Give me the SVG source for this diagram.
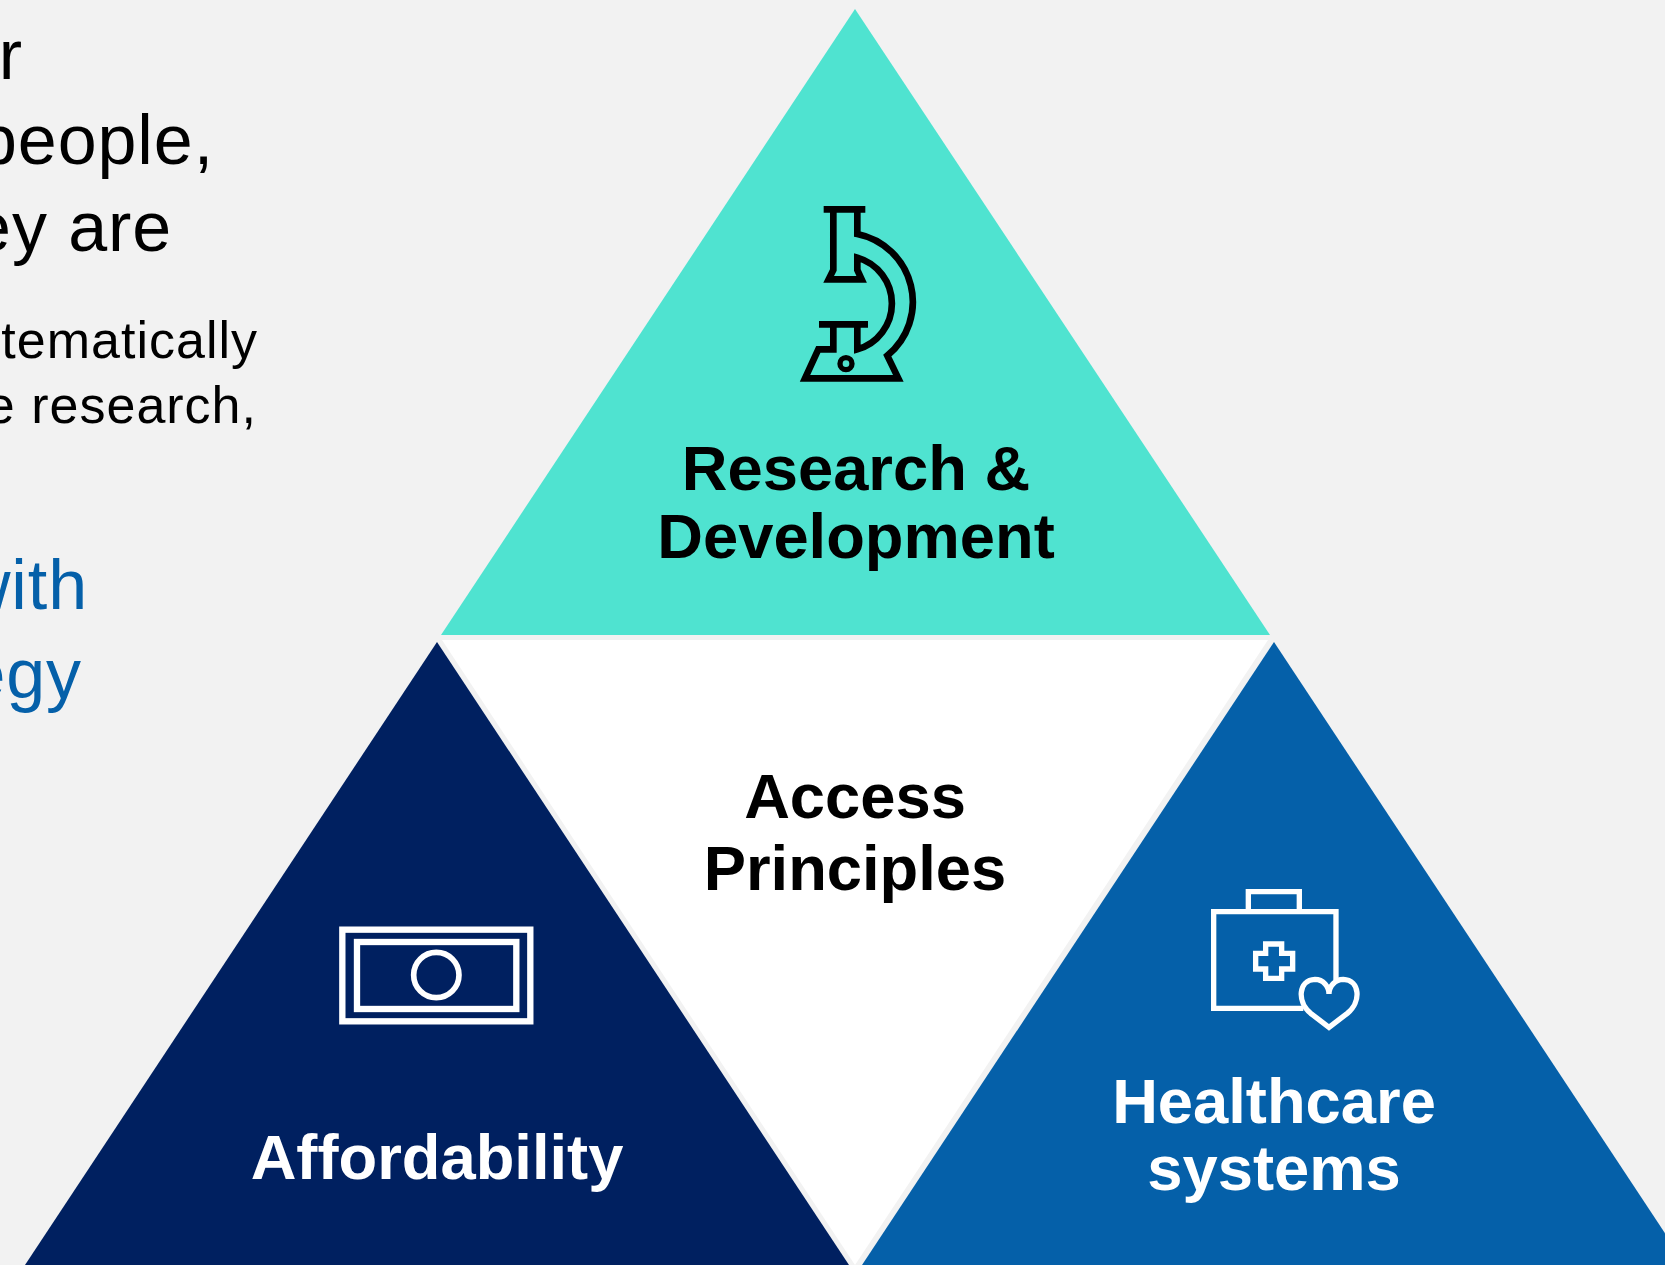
<svg xmlns="http://www.w3.org/2000/svg" width="1665" height="1265" viewBox="0 0 1665 1265">
<style>
text{font-family:"Liberation Sans",Arial,sans-serif}
.big{font-size:70px;letter-spacing:.9px;text-anchor:end;fill:#000}
.mid{font-size:52px;letter-spacing:1px;text-anchor:end;fill:#000}
.blue{font-size:70px;letter-spacing:.9px;text-anchor:end;fill:#0560A9}
.lab{font-size:63.3px;font-weight:bold;text-anchor:middle}
.ico{fill:none;stroke-linejoin:miter}
</style>
<rect width="1665" height="1265" fill="#F2F2F2"/>
<g id="intro-text">
<text class="big" x="23" y="79">r</text>
<text class="big" x="214" y="164">people,</text>
<text class="big" x="172" y="251">ey are</text>
<text class="mid" x="258" y="358">tematically</text>
<text class="mid" x="257" y="423">e research,</text>
<text class="blue" x="88" y="609">with</text>
<text class="blue" x="82" y="698">egy</text>
</g>
<g id="research-development">
<polygon points="855,9 1270,635 441,635" fill="#4FE3D0"/>
<g class="ico" stroke="#000" stroke-width="20" transform="translate(780,190) scale(.3333)">
<path d="M131,58H256M160,58V240L146,268H245L232,240V203A143,143 0 0 1 232,478V403M232,58V132A208,208 0 0 1 322,497L355,565H75L115,478H160V403M117,403H264"/>
<circle cx="198" cy="521" r="18" stroke-width="16"/>
</g>
<text class="lab" x="856" y="490" fill="#000">Research &amp;</text>
<text class="lab" x="856" y="558" fill="#000">Development</text>
</g>
<g id="access-principles">
<polygon points="442,640 1268,640 855,1265" fill="#FFF"/>
<text class="lab" x="855" y="818" fill="#000">Access</text>
<text class="lab" x="855" y="890" fill="#000">Principles</text>
</g>
<g id="affordability">
<polygon points="437,642 849,1265 25,1265" fill="#002060"/>
<g class="ico" stroke="#FFF" transform="translate(320,910) scale(.3333)">
<rect x="67" y="59" width="564" height="275" stroke-width="19"/>
<rect x="111" y="96" width="478" height="201" stroke-width="19"/>
<circle cx="349" cy="195" r="68" stroke-width="17"/>
</g>
<text class="lab" x="437" y="1179" fill="#FFF">Affordability</text>
</g>
<g id="healthcare-systems">
<polygon points="1274,642 1686,1265 862,1265" fill="#0560A9"/>
<g class="ico" stroke="#FFF" stroke-width="16" transform="translate(1190,870) scale(.3333)">
<path d="M438,330V125H71V415H340M175,125V65H328V125"/>
<path d="M227,222H275V250H308V297H275V325H227V297H197V250H227Z"/>
<path d="M417,472L362,430C320,395 325,330 375,328C400,328 417,350 417,372C417,350 435,328 460,328C510,330 515,395 472,430Z"/>
</g>
<text class="lab" x="1274" y="1123" fill="#FFF">Healthcare</text>
<text class="lab" x="1274" y="1190" fill="#FFF">systems</text>
</g>
<g id="connectors"/>
</svg>
